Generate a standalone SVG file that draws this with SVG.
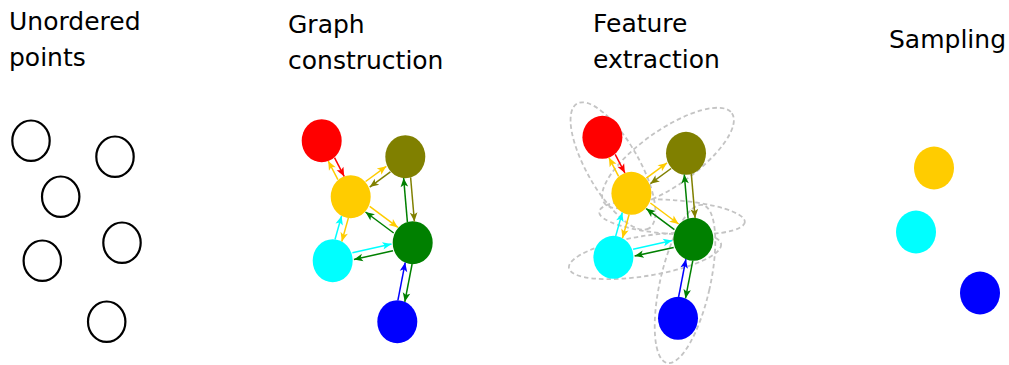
<svg xmlns="http://www.w3.org/2000/svg" xmlns:xlink="http://www.w3.org/1999/xlink" width="1009" height="365" viewBox="0 0 1009 365">
<style>
text{font-family:"DejaVu Sans",sans-serif;font-size:25px;fill:#000}
.pt{fill:#fff;stroke:#000;stroke-width:2.2}
.e{stroke-width:1.5;fill:none}
.nb{fill:none;stroke:#c4c4c4;stroke-width:1.8;stroke-dasharray:4.5,3}
.r{fill:#ff0000}.o{fill:#808000}.y{fill:#ffcc00}.c{fill:#00ffff}.g{fill:#008000}.b{fill:#0000ff}
.er{stroke:#ff0000;marker-end:url(#ar)}.eo{stroke:#808000;marker-end:url(#ao)}.ey{stroke:#ffcc00;marker-end:url(#ay)}
.ec{stroke:#00ffff;marker-end:url(#ac)}.eg{stroke:#008000;marker-end:url(#ag)}.eb{stroke:#0000ff;marker-end:url(#ab)}
</style>
<defs>
<marker id="ar" viewBox="-10 -5 11 10" markerWidth="11" markerHeight="10" markerUnits="userSpaceOnUse" refX="0" refY="0" orient="auto"><path d="M0,0L-9,-3.8L-6.8,0L-9,3.8Z" fill="#ff0000"/></marker>
<marker id="ao" viewBox="-10 -5 11 10" markerWidth="11" markerHeight="10" markerUnits="userSpaceOnUse" refX="0" refY="0" orient="auto"><path d="M0,0L-9,-3.8L-6.8,0L-9,3.8Z" fill="#808000"/></marker>
<marker id="ay" viewBox="-10 -5 11 10" markerWidth="11" markerHeight="10" markerUnits="userSpaceOnUse" refX="0" refY="0" orient="auto"><path d="M0,0L-9,-3.8L-6.8,0L-9,3.8Z" fill="#ffcc00"/></marker>
<marker id="ac" viewBox="-10 -5 11 10" markerWidth="11" markerHeight="10" markerUnits="userSpaceOnUse" refX="0" refY="0" orient="auto"><path d="M0,0L-9,-3.8L-6.8,0L-9,3.8Z" fill="#00ffff"/></marker>
<marker id="ag" viewBox="-10 -5 11 10" markerWidth="11" markerHeight="10" markerUnits="userSpaceOnUse" refX="0" refY="0" orient="auto"><path d="M0,0L-9,-3.8L-6.8,0L-9,3.8Z" fill="#008000"/></marker>
<marker id="ab" viewBox="-10 -5 11 10" markerWidth="11" markerHeight="10" markerUnits="userSpaceOnUse" refX="0" refY="0" orient="auto"><path d="M0,0L-9,-3.8L-6.8,0L-9,3.8Z" fill="#0000ff"/></marker>
</defs>
<rect width="1009" height="365" fill="#fff"/>

<g id="labels">
<text x="9" y="30">Unordered</text><text x="9" y="66">points</text>
<text x="288" y="33">Graph</text><text x="288" y="69">construction</text>
<text x="593" y="32">Feature</text><text x="593" y="68">extraction</text>
<text x="889" y="48">Sampling</text>
</g>

<!-- Unordered points -->
<g id="u1"><ellipse class="pt" cx="31" cy="140.7" rx="18.7" ry="20.2"/></g>
<g id="u2"><ellipse class="pt" cx="115" cy="156.7" rx="18.7" ry="20.2"/></g>
<g id="u3"><ellipse class="pt" cx="60.7" cy="196.7" rx="18.7" ry="20.2"/></g>
<g id="u4"><ellipse class="pt" cx="42.3" cy="260.7" rx="18.7" ry="20.2"/></g>
<g id="u5"><ellipse class="pt" cx="122" cy="242.7" rx="18.7" ry="20.2"/></g>
<g id="u6"><ellipse class="pt" cx="106.7" cy="321.7" rx="18.7" ry="20.2"/></g>

<!-- Graph construction nodes -->
<g id="g-red"><ellipse class="r" cx="321.7" cy="140.7" rx="20" ry="21.5"/></g>
<g id="g-olive"><ellipse class="o" cx="405.3" cy="156.7" rx="20" ry="21.5"/></g>
<g id="g-yellow"><ellipse class="y" cx="350.7" cy="196.7" rx="20" ry="21.5"/></g>
<g id="g-cyan"><ellipse class="c" cx="332.7" cy="260.7" rx="20" ry="21.5"/></g>
<g id="g-green"><ellipse class="g" cx="412.7" cy="242.7" rx="20" ry="21.5"/></g>
<g id="g-blue"><ellipse class="b" cx="397.3" cy="321.7" rx="20" ry="21.5"/></g>

<g id="connectors-graph">
<line class="e er" x1="334.5" y1="157.7" x2="344.2" y2="176.4"/>
<line class="e ey" x1="337.9" y1="179.7" x2="328.2" y2="161.0"/>
<line class="e ey" x1="365.6" y1="181.5" x2="386.3" y2="166.3"/>
<line class="e eo" x1="390.4" y1="171.9" x2="369.7" y2="187.1"/>
<line class="e ey" x1="369.7" y1="206.4" x2="397.9" y2="227.4"/>
<line class="e eg" x1="393.7" y1="233.0" x2="365.5" y2="212.0"/>
<line class="e ey" x1="348.4" y1="217.9" x2="341.8" y2="241.5"/>
<line class="e ec" x1="335.0" y1="239.5" x2="341.6" y2="215.9"/>
<line class="e eo" x1="410.6" y1="177.3" x2="414.4" y2="221.5"/>
<line class="e eg" x1="407.4" y1="222.1" x2="403.6" y2="177.9"/>
<line class="e ec" x1="352.4" y1="252.7" x2="391.5" y2="243.9"/>
<line class="e eg" x1="393.0" y1="250.8" x2="353.9" y2="259.5"/>
<line class="e eb" x1="397.9" y1="300.4" x2="405.2" y2="262.6"/>
<line class="e eg" x1="412.1" y1="264.0" x2="404.8" y2="301.8"/>
</g>

<!-- Feature extraction -->
<g id="neighborhoods">
<ellipse class="nb" cx="613" cy="166" rx="72" ry="26" transform="rotate(60 613 166)"/>
<ellipse class="nb" cx="668" cy="158" rx="78" ry="28" transform="rotate(-35 668 158)"/>
<ellipse class="nb" cx="672" cy="217" rx="73" ry="17" transform="rotate(4 672 217)"/>
<ellipse class="nb" cx="645" cy="256" rx="77" ry="20" transform="rotate(-9 645 256)"/>
<ellipse class="nb" cx="685" cy="284" rx="25" ry="81" transform="rotate(12.8 685 284)"/>
</g>

<g id="f-red"><ellipse class="r" cx="602.4" cy="137.3" rx="20" ry="21.5"/></g>
<g id="f-olive"><ellipse class="o" cx="686" cy="153.3" rx="20" ry="21.5"/></g>
<g id="f-yellow"><ellipse class="y" cx="631.4" cy="193.3" rx="20" ry="21.5"/></g>
<g id="f-cyan"><ellipse class="c" cx="613.4" cy="257.3" rx="20" ry="21.5"/></g>
<g id="f-green"><ellipse class="g" cx="693.4" cy="239.3" rx="20" ry="21.5"/></g>
<g id="f-blue"><ellipse class="b" cx="678" cy="318.3" rx="20" ry="21.5"/></g>

<g id="connectors-feature" transform="translate(280.7,-3.4)">
<line class="e er" x1="334.5" y1="157.7" x2="344.2" y2="176.4"/>
<line class="e ey" x1="337.9" y1="179.7" x2="328.2" y2="161.0"/>
<line class="e ey" x1="365.6" y1="181.5" x2="386.3" y2="166.3"/>
<line class="e eo" x1="390.4" y1="171.9" x2="369.7" y2="187.1"/>
<line class="e ey" x1="369.7" y1="206.4" x2="397.9" y2="227.4"/>
<line class="e eg" x1="393.7" y1="233.0" x2="365.5" y2="212.0"/>
<line class="e ey" x1="348.4" y1="217.9" x2="341.8" y2="241.5"/>
<line class="e ec" x1="335.0" y1="239.5" x2="341.6" y2="215.9"/>
<line class="e eo" x1="410.6" y1="177.3" x2="414.4" y2="221.5"/>
<line class="e eg" x1="407.4" y1="222.1" x2="403.6" y2="177.9"/>
<line class="e ec" x1="352.4" y1="252.7" x2="391.5" y2="243.9"/>
<line class="e eg" x1="393.0" y1="250.8" x2="353.9" y2="259.5"/>
<line class="e eb" x1="397.9" y1="300.4" x2="405.2" y2="262.6"/>
<line class="e eg" x1="412.1" y1="264.0" x2="404.8" y2="301.8"/>
</g>

<!-- Sampling -->
<g id="s-yellow"><ellipse class="y" cx="934" cy="168" rx="20" ry="21.5"/></g>
<g id="s-cyan"><ellipse class="c" cx="916" cy="232" rx="20" ry="21.5"/></g>
<g id="s-blue"><ellipse class="b" cx="980" cy="293" rx="20" ry="21.5"/></g>
</svg>
